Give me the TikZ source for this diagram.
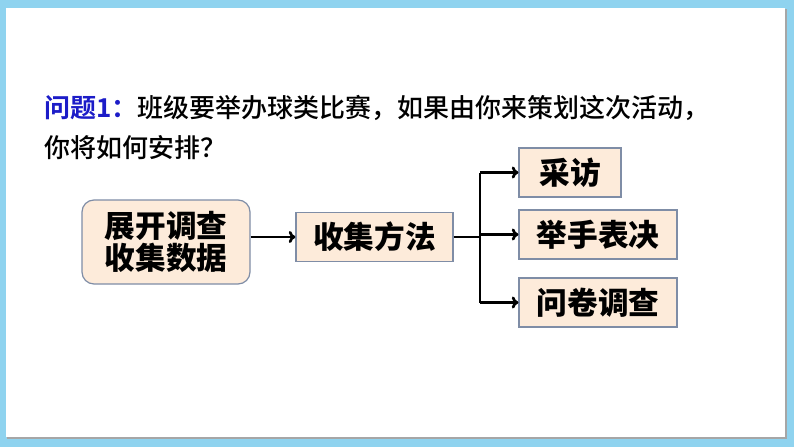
\documentclass[tikz,border=0pt]{standalone}
\usepackage{fontspec}
\usepackage{tikz}
\usetikzlibrary{arrows.meta,positioning,calc}
\setmainfont{Noto Sans CJK SC}
\newfontfamily\cjk{Noto Sans CJK SC Medium}[BoldFont={Noto Sans CJK SC Bold}]
\newfontfamily\cjkheavy{Noto Sans CJK SC Black}
\definecolor{framebl}{HTML}{8FD3EF}
\definecolor{boxfill}{HTML}{FDEBDA}
\definecolor{boxline}{HTML}{7F8DA6}
\definecolor{qblue}{HTML}{1C1CC8}

\begin{document}
\begin{tikzpicture}[x=0.75pt,y=-0.75pt,
  stepbox/.style={draw=boxline,fill=boxfill,line width=0.9pt,inner sep=0pt,
    minimum height=36.75pt,font=\cjkheavy\fontsize{23}{27}\selectfont},
  link/.style={line width=2pt,black,-{To[length=5pt,width=9pt]}}]
\useasboundingbox (0,0) rectangle (794,447);
% frame
\fill[framebl] (0,0) rectangle (794,447);
\fill[black!35] (7,9) rectangle (787,439);
\fill[white] (6,8) rectangle (785,437);
% question
\node[anchor=west,inner sep=0pt,font=\cjk\fontsize{19.5}{24}\selectfont] (q1) at (44,108)
  {\textcolor{qblue}{\bfseries 问题1：}班级要举办球类比赛，如果由你来策划这次活动，};
\node[anchor=west,inner sep=0pt,font=\cjk\fontsize{19.5}{24}\selectfont] (q2) at (44,148)
  {你将如何安排？};
% boxes
\node[stepbox,rounded corners=9pt,minimum width=126pt,minimum height=63pt,align=center] (survey) at (166,242)
  {展开调查\\[-3pt]收集数据};
\node[stepbox,minimum width=117.75pt] (method) at (374.5,237) {收集方法};
\node[stepbox,minimum width=76.5pt] (visit) at (570,172.5) {采访};
\node[stepbox,minimum width=118.5pt] (vote) at (598,234.5) {举手表决};
\node[stepbox,minimum width=118.5pt] (quest) at (598,302.5) {问卷调查};
% connectors
\draw[link] (survey.east |- method) -- (method.west);
\coordinate (br) at (480,237);
\draw[line width=2pt] (method.east) -- (br);
\draw[line width=2pt] (br |- visit) -- (br |- quest);
\draw[link] (br |- visit) -- (visit.west);
\draw[link] (br |- vote) -- (vote.west);
\draw[link] (br |- quest) -- (quest.west);
\end{tikzpicture}
\end{document}
